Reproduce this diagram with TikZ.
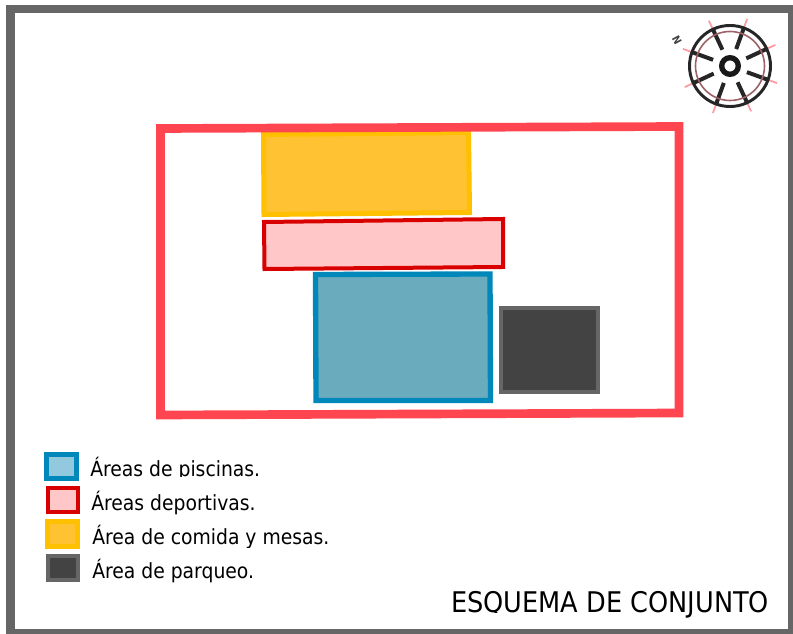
\documentclass[tikz,border=0pt]{standalone}
\usepackage{fontspec}
\setmainfont{DejaVu Sans Condensed}
\usepackage{tikz}
\definecolor{framegray}{HTML}{666666}
\definecolor{lotred}{HTML}{FF4650}
\definecolor{foodedge}{HTML}{FFC000}
\definecolor{foodfill}{HTML}{FFC233}
\definecolor{sportedge}{HTML}{D90000}
\definecolor{sportfill}{HTML}{FFC7C7}
\definecolor{pooledge}{HTML}{0088BB}
\definecolor{poolfill}{HTML}{6AABBD}
\definecolor{poolkey}{HTML}{92C9DE}
\definecolor{parkedge}{HTML}{666666}
\definecolor{parkfill}{HTML}{434343}
\tikzset{
  zone/.style={line join=miter},
  food/.style={zone, draw=foodedge, fill=foodfill, line width=3.75pt},
  sport/.style={zone, draw=sportedge, fill=sportfill, line width=3pt},
  pool/.style={zone, draw=pooledge, fill=poolfill, line width=4pt},
  park/.style={zone, draw=parkedge, fill=parkfill, line width=3pt},
  keytext/.style={anchor=base west, inner sep=0pt, font=\fontsize{15.65}{16}\selectfont},
}
\begin{document}
\begin{tikzpicture}[x=0.75pt, y=-0.75pt]
    \useasboundingbox (0,0) rectangle (793,634);
    \fill [white] (0,0) rectangle (793,634);
    \begin{scope}
      \clip (0,0) rectangle (793,634);
      \draw [framegray, line width=6.4pt] (10.5,9) rectangle (792.5,633.5);
    \end{scope}
    % zones
    \draw [food] (263.5,134.5) -- (468.5,132.5) -- (469.5,212.5) -- (264,214.5) -- cycle;
    \draw [sport] (264,222) -- (503,219) -- (503,267) -- (264.5,269) -- cycle;
    \draw [pool] (315.5,274.5) -- (490,274) -- (490.5,400.5) -- (316,400.5) -- cycle;
    \draw [park] (501,308) rectangle (598,392);
    \draw [lotred, line width=6.5pt] (160.5,128.5) -- (679,126.5) -- (679,413) -- (160.5,415) -- cycle;
    % legend
    \draw [pool, fill=poolkey] (46.5,454.5) rectangle (76.5,478.5);
    \draw [sport] (48,488) rectangle (78,512);
    \draw [food] (47.5,521.5) rectangle (77.5,546.5);
    \draw [park] (48,556) rectangle (78,580);
    \begin{scope}
      \clip (85,450) rectangle (300,477);
      \node [keytext] (poolkeytext) at (90,477) {Áreas de piscinas.};
    \end{scope}
    \begin{scope}
      \clip (85,486) rectangle (300,516);
      \node [keytext] (sportkeytext) at (91,511) {Áreas deportivas.};
    \end{scope}
    \begin{scope}
      \clip (85,520) rectangle (340,548);
      \node [keytext] (foodkeytext) at (92,545) {Área de comida y mesas.};
    \end{scope}
    \begin{scope}
      \clip (85,554) rectangle (300,584);
      \node [keytext] (parkkeytext) at (92,579) {Área de parqueo.};
    \end{scope}
    \begin{scope}
      \clip (440,580) rectangle (780,612.5) (600,612) rectangle (780,622);
      \node [anchor=base west, inner sep=0pt, font=\fontsize{21.35}{22}\selectfont] (title) at (451,612.5) {ESQUEMA DE CONJUNTO};
    \end{scope}
    % compass
    \begin{scope}[shift={(730,66)}]
      \foreach \a in {20,65,...,335} {
        \draw [lotred!55, line width=1.3pt] (\a:36) -- (\a:50);
        \draw [black!85, line width=3pt] (\a:18) -- (\a:40);
      }
      \draw [black!85, line width=2.2pt] (0,0) circle [radius=40.5];
      \draw [lotred!45!black!70, line width=1.2pt] (0,0) circle [radius=34.5];
      \draw [black!90, line width=4pt] (0,0) circle [radius=8.3];
      \node [rotate=-62, inner sep=0pt, font=\fontsize{8}{8}\selectfont\bfseries, black!75] (north) at (-53,-26) {N};
    \end{scope}
\end{tikzpicture}
\end{document}
